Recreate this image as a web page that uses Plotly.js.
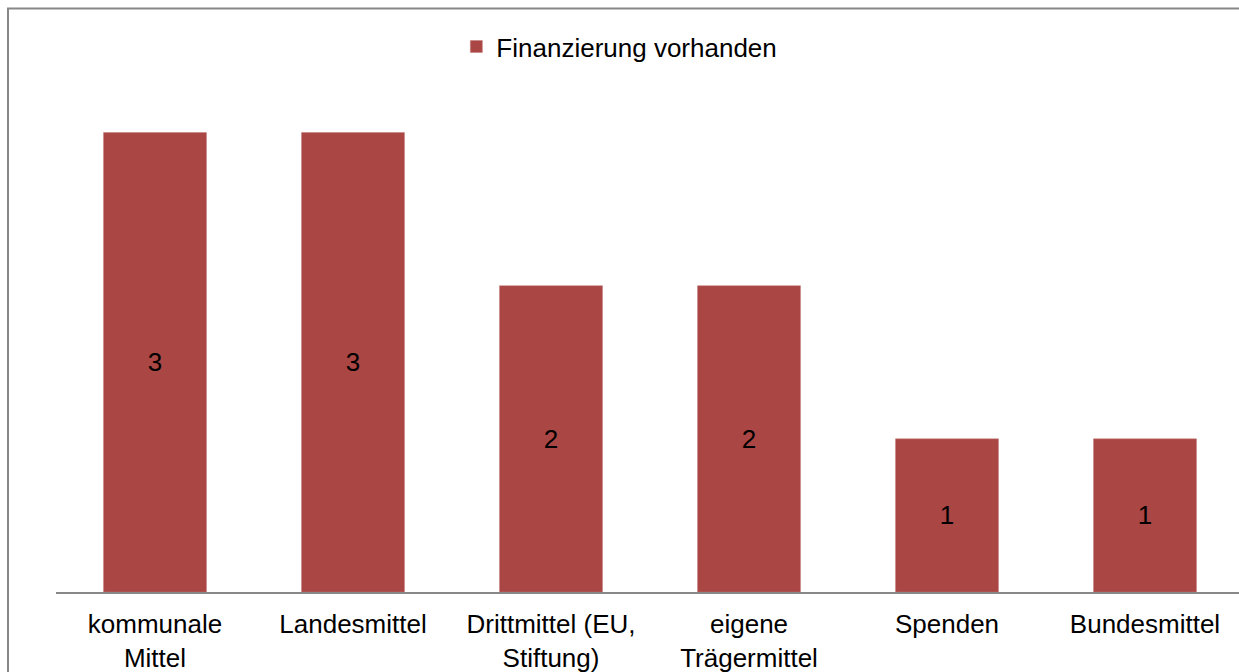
<!DOCTYPE html>
<html>
<head>
<meta charset="utf-8">
<script src="https://cdn.plot.ly/plotly-3.0.1.min.js"></script>
<style>
html, body { margin: 0; padding: 0; overflow: hidden; background: #fff; }
#chart { width: 1250px; height: 672px; }
</style>
</head>
<body>
<div id="chart"></div>
<script>
const categories = ["kommunale<br>Mittel", "Landesmittel", "Drittmittel (EU,<br>Stiftung)", "eigene<br>Trägermittel", "Spenden", "Bundesmittel"];
const values = [3, 3, 2, 2, 1, 1];
const seriesName = "Finanzierung vorhanden";

const font = "Liberation Sans, Arial, sans-serif";

const trace = {
  type: "bar",
  x: categories,
  y: values,
  name: seriesName,
  marker: { color: "#AA4644", line: { color: "#C27A78", width: 0.5 } },
  text: values.map(String),
  textposition: "inside",
  insidetextanchor: "middle",
  textangle: 0,
  insidetextfont: { family: font, size: 26, color: "#000" },
  cliponaxis: false,
  hoverinfo: "x+y"
};

const layout = {
  width: 1250,
  height: 672,
  margin: { l: 56, r: 6, t: 56, b: 80 },
  paper_bgcolor: "#fff",
  plot_bgcolor: "#fff",
  bargap: 0.48,
  showlegend: true,
  legend: {
    orientation: "h",
    x: 0.337,
    xanchor: "left",
    y: 1.0175,
    yanchor: "middle",
    font: { family: font, size: 26, color: "#000" },
    bgcolor: "rgba(0,0,0,0)"
  },
  xaxis: {
    showline: true,
    linecolor: "#898989",
    linewidth: 1.5,
    ticks: "",
    showgrid: false,
    zeroline: false,
    ticklabelstandoff: 8,
    tickfont: { family: font, size: 26, color: "#000" },
    automargin: false
  },
  yaxis: {
    range: [0, 3.5],
    visible: false,
    showgrid: false,
    zeroline: false,
    fixedrange: true
  },
  shapes: [{
    type: "rect",
    xref: "paper", yref: "paper",
    x0: -0.0404, x1: 1.2,
    y0: -0.3, y1: 1.0884,
    line: { color: "#878787", width: 2 },
    fillcolor: "rgba(0,0,0,0)",
    layer: "above"
  }]
};

Plotly.newPlot("chart", [trace], layout, { displayModeBar: false, staticPlot: true });
</script>
</body>
</html>
